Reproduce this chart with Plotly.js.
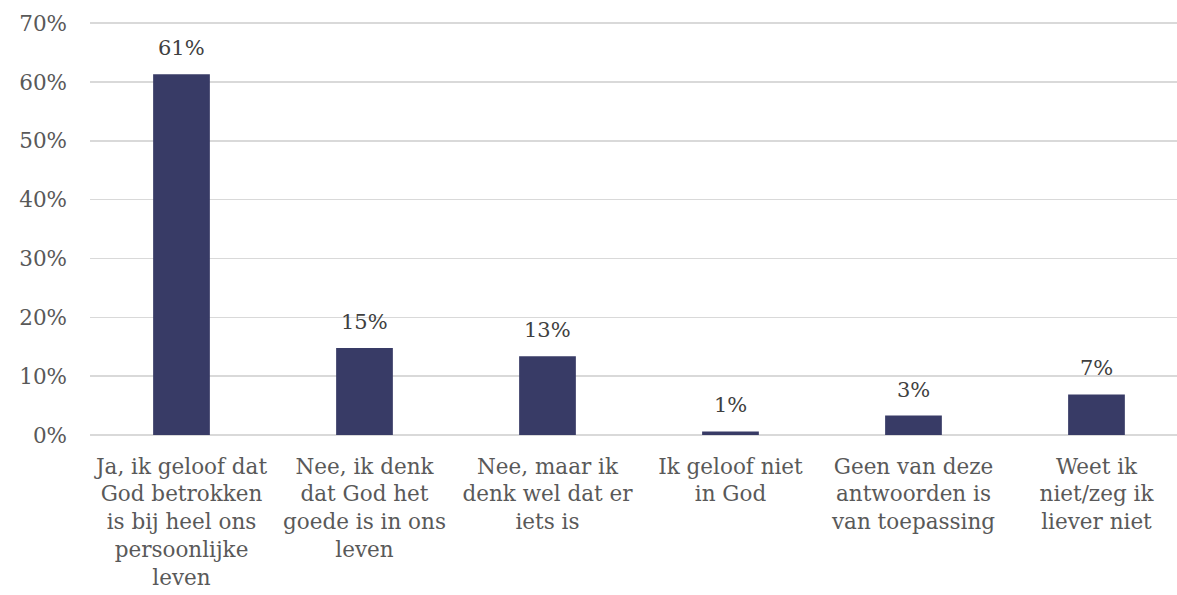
<!DOCTYPE html>
<html><head><meta charset="utf-8">
<script src="https://cdn.plot.ly/plotly-3.0.1.min.js"></script>
<style>html,body{margin:0;padding:0;background:#fff}#chart{width:1177px;height:595px}</style>
</head><body><div id="chart"></div>
<script>
const categories = [
  "Ja, ik geloof dat<br>God betrokken<br>is bij heel ons<br>persoonlijke<br>leven",
  "Nee, ik denk<br>dat God het<br>goede is in ons<br>leven",
  "Nee, maar ik<br>denk wel dat er<br>iets is",
  "Ik geloof niet<br>in God",
  "Geen van deze<br>antwoorden is<br>van toepassing",
  "Weet ik<br>niet/zeg ik<br>liever niet"
];
const values = [61.3, 14.8, 13.4, 0.6, 3.3, 6.9];
const valueLabels = ["61%", "15%", "13%", "1%", "3%", "7%"];
const yTickVals = [0, 10, 20, 30, 40, 50, 60, 70];
const yTickText = ["0%", "10%", "20%", "30%", "40%", "50%", "60%", "70%"];

const FONT = "DejaVu Serif, serif";
const trace = {
  type: "bar",
  x: categories,
  y: values,
  width: 0.31,
  marker: {color: "#383b66"},
  hoverinfo: "skip"
};
const annotations = categories.map((c, i) => ({
  x: c, y: values[i], xref: "x", yref: "y",
  text: valueLabels[i], showarrow: false,
  yanchor: "bottom", yshift: 12,
  font: {family: FONT, size: 21, color: "#404040"}
}));
const layout = {
  width: 1177, height: 595,
  margin: {l: 90, r: 0, t: 22, b: 160},
  paper_bgcolor: "#fff", plot_bgcolor: "#fff",
  showlegend: false,
  font: {family: FONT, size: 21, color: "#595959"},
  xaxis: {
    type: "category",
    range: [-0.5, 5.44],
    showgrid: false, showline: false, zeroline: false,
    ticks: "", ticklabelstandoff: 16,
    tickfont: {family: FONT, size: 21.5, color: "#595959"},
    fixedrange: true
  },
  yaxis: {
    range: [0, 70.2],
    tickvals: yTickVals, ticktext: yTickText,
    showgrid: true, gridcolor: "#d9d9d9", gridwidth: 1.5,
    zeroline: true, zerolinecolor: "#d9d9d9", zerolinewidth: 1.5,
    showline: false, ticks: "",
    ticklabelstandoff: 22,
    tickfont: {family: FONT, size: 21.5, color: "#595959"},
    fixedrange: true
  },
  annotations: annotations
};
Plotly.newPlot("chart", [trace], layout, {displayModeBar: false, staticPlot: true});
</script></body></html>
